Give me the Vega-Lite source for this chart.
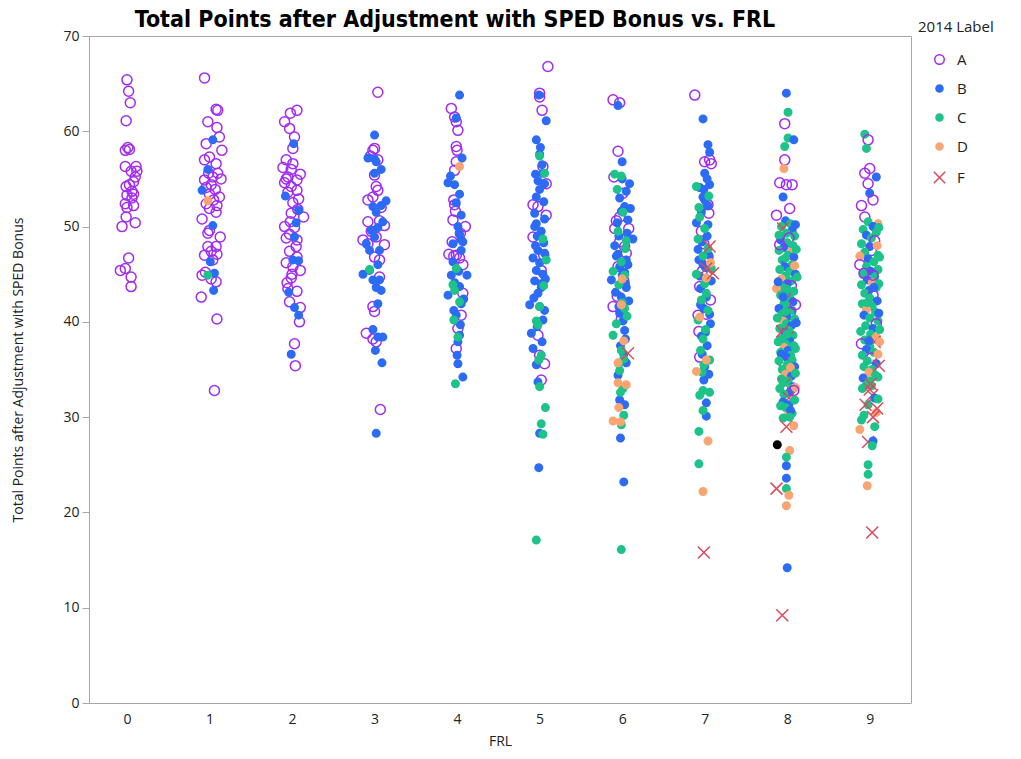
{
"$schema":"https://vega.github.io/schema/vega-lite/v6.json",
"width":822,"height":667,"autosize":"none",
"padding":{"left":89,"top":36,"right":110,"bottom":56},
"background":"white",
"title":{"text":"Total Points after Adjustment with SPED Bonus vs. FRL","font":"Liberation Sans Narrow, DejaVu Sans Condensed, Liberation Sans, sans-serif","fontSize":23,"fontWeight":"bold","color":"#000000","anchor":"middle","dx":-45,"dy":18,"offset":6},
"config":{"view":{"stroke":"#a6a6a6","strokeWidth":1},"font":"Open Sans"},
"data":{"values":[
{"x":0.00,"y":65.4,"l":"A"},{"x":0.02,"y":64.2,"l":"A"},{"x":0.04,"y":63.0,"l":"A"},{"x":-0.01,"y":61.1,"l":"A"},{"x":0.01,"y":58.3,"l":"A"},{"x":-0.02,"y":58.0,"l":"A"},{"x":0.03,"y":58.1,"l":"A"},{"x":-0.02,"y":56.3,"l":"A"},{"x":0.11,"y":56.3,"l":"A"},{"x":0.05,"y":55.8,"l":"A"},{"x":0.12,"y":55.8,"l":"A"},{"x":0.08,"y":54.7,"l":"A"},{"x":-0.01,"y":54.2,"l":"A"},{"x":0.06,"y":53.7,"l":"A"},{"x":0.00,"y":53.3,"l":"A"},{"x":0.08,"y":53.4,"l":"A"},{"x":-0.02,"y":52.4,"l":"A"},{"x":0.08,"y":52.2,"l":"A"},{"x":0.00,"y":52.0,"l":"A"},{"x":-0.01,"y":51.0,"l":"A"},{"x":-0.06,"y":50.0,"l":"A"},{"x":0.10,"y":50.4,"l":"A"},{"x":0.02,"y":46.7,"l":"A"},{"x":-0.08,"y":45.4,"l":"A"},{"x":-0.02,"y":45.6,"l":"A"},{"x":0.05,"y":44.7,"l":"A"},{"x":0.05,"y":43.7,"l":"A"},{"x":0.03,"y":54.4,"l":"A"},{"x":0.06,"y":53.0,"l":"A"},{"x":0.10,"y":55.2,"l":"A"},
{"x":0.94,"y":65.6,"l":"A"},{"x":1.08,"y":62.3,"l":"A"},{"x":1.10,"y":62.2,"l":"A"},{"x":0.98,"y":61.0,"l":"A"},{"x":1.09,"y":60.4,"l":"A"},{"x":1.12,"y":59.4,"l":"A"},{"x":0.96,"y":58.7,"l":"A"},{"x":1.15,"y":58.0,"l":"A"},{"x":1.00,"y":57.3,"l":"A"},{"x":0.94,"y":57.0,"l":"A"},{"x":1.08,"y":56.6,"l":"A"},{"x":0.99,"y":55.6,"l":"A"},{"x":1.10,"y":55.6,"l":"A"},{"x":1.04,"y":55.2,"l":"A"},{"x":0.94,"y":54.9,"l":"A"},{"x":1.14,"y":55.0,"l":"A"},{"x":1.02,"y":54.4,"l":"A"},{"x":0.96,"y":54.1,"l":"A"},{"x":1.07,"y":53.9,"l":"A"},{"x":1.00,"y":53.4,"l":"A"},{"x":1.12,"y":53.1,"l":"A"},{"x":1.05,"y":52.8,"l":"A"},{"x":0.96,"y":52.4,"l":"A"},{"x":1.09,"y":52.2,"l":"A"},{"x":1.00,"y":51.9,"l":"A"},{"x":1.08,"y":51.5,"l":"A"},{"x":0.91,"y":50.8,"l":"A"},{"x":0.98,"y":49.3,"l":"A"},{"x":1.00,"y":49.6,"l":"A"},{"x":1.13,"y":48.9,"l":"A"},{"x":0.98,"y":47.9,"l":"A"},{"x":1.08,"y":47.9,"l":"A"},{"x":1.02,"y":47.4,"l":"A"},{"x":0.94,"y":47.0,"l":"A"},{"x":1.09,"y":47.1,"l":"A"},{"x":1.04,"y":46.5,"l":"A"},{"x":0.91,"y":44.9,"l":"A"},{"x":1.02,"y":44.5,"l":"A"},{"x":1.08,"y":44.2,"l":"A"},{"x":0.95,"y":45.2,"l":"A"},{"x":0.90,"y":42.6,"l":"A"},{"x":1.09,"y":40.3,"l":"A"},{"x":1.06,"y":32.8,"l":"A"},
{"x":1.04,"y":59.1,"l":"B"},{"x":0.91,"y":53.8,"l":"B"},{"x":1.04,"y":50.1,"l":"B"},{"x":1.01,"y":46.3,"l":"B"},{"x":1.06,"y":45.1,"l":"B"},{"x":1.05,"y":43.3,"l":"B"},{"x":0.98,"y":56.0,"l":"B"},{"x":0.98,"y":52.7,"l":"D"},{"x":0.98,"y":44.9,"l":"C"},
{"x":2.06,"y":62.2,"l":"A"},{"x":1.98,"y":61.9,"l":"A"},{"x":1.91,"y":61.0,"l":"A"},{"x":1.97,"y":60.3,"l":"A"},{"x":2.03,"y":59.4,"l":"A"},{"x":2.01,"y":58.2,"l":"A"},{"x":1.93,"y":57.0,"l":"A"},{"x":2.01,"y":56.6,"l":"A"},{"x":1.89,"y":56.2,"l":"A"},{"x":1.99,"y":56.0,"l":"A"},{"x":2.10,"y":55.5,"l":"A"},{"x":1.95,"y":55.2,"l":"A"},{"x":2.06,"y":54.9,"l":"A"},{"x":1.91,"y":54.6,"l":"A"},{"x":1.99,"y":54.2,"l":"A"},{"x":2.06,"y":53.8,"l":"A"},{"x":1.95,"y":53.6,"l":"A"},{"x":2.01,"y":52.5,"l":"A"},{"x":2.07,"y":51.8,"l":"A"},{"x":1.99,"y":51.4,"l":"A"},{"x":2.14,"y":51.0,"l":"A"},{"x":1.91,"y":50.0,"l":"A"},{"x":2.03,"y":49.9,"l":"A"},{"x":1.97,"y":49.2,"l":"A"},{"x":2.06,"y":48.6,"l":"A"},{"x":1.93,"y":48.8,"l":"A"},{"x":1.97,"y":47.4,"l":"A"},{"x":2.06,"y":46.8,"l":"A"},{"x":1.93,"y":46.2,"l":"A"},{"x":2.01,"y":45.8,"l":"A"},{"x":2.10,"y":45.4,"l":"A"},{"x":1.99,"y":44.6,"l":"A"},{"x":1.95,"y":43.5,"l":"A"},{"x":2.06,"y":43.2,"l":"A"},{"x":1.97,"y":42.1,"l":"A"},{"x":2.10,"y":41.5,"l":"A"},{"x":2.09,"y":40.0,"l":"A"},{"x":2.03,"y":37.7,"l":"A"},{"x":2.04,"y":35.4,"l":"A"},{"x":1.93,"y":55.0,"l":"A"},{"x":2.08,"y":52.9,"l":"A"},{"x":1.98,"y":50.5,"l":"A"},{"x":2.00,"y":45.0,"l":"A"},{"x":1.94,"y":44.1,"l":"A"},{"x":2.05,"y":47.9,"l":"A"},
{"x":2.02,"y":58.7,"l":"B"},{"x":1.92,"y":53.2,"l":"B"},{"x":2.08,"y":51.7,"l":"B"},{"x":2.03,"y":48.9,"l":"B"},{"x":2.01,"y":46.5,"l":"B"},{"x":2.08,"y":46.4,"l":"B"},{"x":1.96,"y":43.1,"l":"B"},{"x":2.03,"y":41.5,"l":"B"},{"x":2.08,"y":40.7,"l":"B"},{"x":1.99,"y":36.6,"l":"B"},{"x":2.05,"y":50.4,"l":"B"},
{"x":3.04,"y":64.1,"l":"A"},{"x":3.00,"y":58.2,"l":"A"},{"x":2.98,"y":58.0,"l":"A"},{"x":3.04,"y":57.0,"l":"A"},{"x":3.00,"y":55.4,"l":"A"},{"x":3.02,"y":54.2,"l":"A"},{"x":3.04,"y":53.8,"l":"A"},{"x":2.92,"y":52.8,"l":"A"},{"x":2.98,"y":53.1,"l":"A"},{"x":2.92,"y":50.5,"l":"A"},{"x":3.06,"y":50.6,"l":"A"},{"x":3.12,"y":50.1,"l":"A"},{"x":2.86,"y":48.6,"l":"A"},{"x":2.92,"y":48.2,"l":"A"},{"x":3.12,"y":48.1,"l":"A"},{"x":3.02,"y":48.9,"l":"A"},{"x":3.00,"y":46.8,"l":"A"},{"x":3.06,"y":46.5,"l":"A"},{"x":3.06,"y":44.7,"l":"A"},{"x":2.98,"y":41.6,"l":"A"},{"x":3.00,"y":41.1,"l":"A"},{"x":2.90,"y":38.8,"l":"A"},{"x":2.98,"y":38.2,"l":"A"},{"x":3.02,"y":37.9,"l":"A"},{"x":3.07,"y":30.8,"l":"A"},{"x":2.96,"y":49.5,"l":"A"},{"x":3.08,"y":52.0,"l":"A"},{"x":2.95,"y":57.4,"l":"A"},
{"x":3.00,"y":59.6,"l":"B"},{"x":2.92,"y":57.2,"l":"B"},{"x":3.00,"y":57.1,"l":"B"},{"x":3.02,"y":56.8,"l":"B"},{"x":3.00,"y":55.6,"l":"B"},{"x":3.14,"y":52.7,"l":"B"},{"x":2.98,"y":52.1,"l":"B"},{"x":3.08,"y":52.2,"l":"B"},{"x":3.02,"y":51.5,"l":"B"},{"x":3.10,"y":50.5,"l":"B"},{"x":3.04,"y":49.9,"l":"B"},{"x":2.96,"y":49.6,"l":"B"},{"x":3.00,"y":48.9,"l":"B"},{"x":2.90,"y":48.2,"l":"B"},{"x":2.94,"y":47.5,"l":"B"},{"x":3.06,"y":47.5,"l":"B"},{"x":3.04,"y":46.0,"l":"B"},{"x":2.94,"y":45.4,"l":"B"},{"x":2.86,"y":45.0,"l":"B"},{"x":2.98,"y":44.4,"l":"B"},{"x":3.06,"y":44.4,"l":"B"},{"x":3.02,"y":43.6,"l":"B"},{"x":3.08,"y":43.3,"l":"B"},{"x":3.04,"y":41.9,"l":"B"},{"x":2.98,"y":39.2,"l":"B"},{"x":3.10,"y":38.4,"l":"B"},{"x":3.04,"y":38.4,"l":"B"},{"x":3.01,"y":37.0,"l":"B"},{"x":3.09,"y":35.7,"l":"B"},{"x":3.02,"y":28.3,"l":"B"},{"x":3.08,"y":56.0,"l":"B"},{"x":2.94,"y":45.5,"l":"C"},
{"x":3.93,"y":62.4,"l":"A"},{"x":3.97,"y":61.5,"l":"A"},{"x":3.99,"y":61.0,"l":"A"},{"x":4.01,"y":60.1,"l":"A"},{"x":3.99,"y":58.4,"l":"A"},{"x":4.00,"y":58.0,"l":"A"},{"x":3.99,"y":56.8,"l":"A"},{"x":3.97,"y":55.9,"l":"A"},{"x":3.96,"y":52.8,"l":"A"},{"x":3.97,"y":52.3,"l":"A"},{"x":3.95,"y":50.7,"l":"A"},{"x":4.10,"y":50.0,"l":"A"},{"x":3.94,"y":48.4,"l":"A"},{"x":3.90,"y":47.1,"l":"A"},{"x":3.99,"y":47.0,"l":"A"},{"x":4.03,"y":46.7,"l":"A"},{"x":3.96,"y":46.9,"l":"A"},{"x":4.07,"y":46.0,"l":"A"},{"x":4.07,"y":43.0,"l":"A"},{"x":4.05,"y":40.7,"l":"A"},{"x":4.01,"y":39.3,"l":"A"},{"x":3.99,"y":37.2,"l":"A"},{"x":3.98,"y":51.6,"l":"A"},{"x":4.04,"y":49.3,"l":"A"},
{"x":4.03,"y":63.8,"l":"B"},{"x":3.99,"y":61.4,"l":"B"},{"x":3.89,"y":54.6,"l":"B"},{"x":3.97,"y":54.4,"l":"B"},{"x":4.03,"y":53.4,"l":"B"},{"x":4.05,"y":51.2,"l":"B"},{"x":4.01,"y":50.0,"l":"B"},{"x":4.03,"y":49.2,"l":"B"},{"x":4.05,"y":48.6,"l":"B"},{"x":3.95,"y":48.2,"l":"B"},{"x":4.07,"y":48.4,"l":"B"},{"x":3.93,"y":44.9,"l":"B"},{"x":4.12,"y":44.9,"l":"B"},{"x":3.89,"y":42.8,"l":"B"},{"x":4.03,"y":43.7,"l":"B"},{"x":4.05,"y":41.9,"l":"B"},{"x":3.99,"y":40.7,"l":"B"},{"x":4.03,"y":38.6,"l":"B"},{"x":4.01,"y":37.9,"l":"B"},{"x":4.01,"y":35.6,"l":"B"},{"x":4.07,"y":34.2,"l":"B"},{"x":3.99,"y":52.5,"l":"B"},{"x":4.05,"y":47.5,"l":"B"},{"x":3.95,"y":46.3,"l":"B"},{"x":4.02,"y":45.3,"l":"B"},{"x":3.97,"y":44.1,"l":"B"},{"x":4.08,"y":42.4,"l":"B"},{"x":3.96,"y":41.2,"l":"B"},{"x":4.04,"y":39.7,"l":"B"},{"x":4.00,"y":36.5,"l":"B"},{"x":3.92,"y":55.3,"l":"B"},{"x":4.06,"y":57.2,"l":"B"},
{"x":3.99,"y":45.6,"l":"C"},{"x":3.95,"y":43.9,"l":"C"},{"x":3.97,"y":43.3,"l":"C"},{"x":4.03,"y":42.1,"l":"C"},{"x":3.98,"y":33.5,"l":"C"},{"x":4.01,"y":38.4,"l":"C"},{"x":3.96,"y":40.2,"l":"C"},{"x":4.03,"y":56.3,"l":"D"},
{"x":5.10,"y":66.8,"l":"A"},{"x":5.00,"y":64.0,"l":"A"},{"x":5.00,"y":63.6,"l":"A"},{"x":5.03,"y":62.2,"l":"A"},{"x":5.04,"y":56.3,"l":"A"},{"x":5.08,"y":54.5,"l":"A"},{"x":4.92,"y":52.3,"l":"A"},{"x":4.98,"y":52.1,"l":"A"},{"x":5.08,"y":51.2,"l":"A"},{"x":4.92,"y":48.9,"l":"A"},{"x":5.02,"y":45.4,"l":"A"},{"x":4.98,"y":38.6,"l":"A"},{"x":5.00,"y":36.5,"l":"A"},{"x":5.06,"y":35.6,"l":"A"},{"x":5.02,"y":33.9,"l":"A"},{"x":5.05,"y":47.0,"l":"A"},
{"x":4.99,"y":63.8,"l":"B"},{"x":5.08,"y":61.1,"l":"B"},{"x":4.96,"y":59.1,"l":"B"},{"x":5.00,"y":57.6,"l":"B"},{"x":5.04,"y":55.6,"l":"B"},{"x":4.98,"y":54.8,"l":"B"},{"x":5.06,"y":54.5,"l":"B"},{"x":5.00,"y":53.9,"l":"B"},{"x":4.96,"y":53.1,"l":"B"},{"x":4.94,"y":51.4,"l":"B"},{"x":5.06,"y":50.8,"l":"B"},{"x":4.96,"y":50.3,"l":"B"},{"x":5.02,"y":49.5,"l":"B"},{"x":4.98,"y":47.5,"l":"B"},{"x":5.06,"y":47.2,"l":"B"},{"x":4.92,"y":46.7,"l":"B"},{"x":5.00,"y":46.2,"l":"B"},{"x":4.96,"y":45.4,"l":"B"},{"x":5.04,"y":45.0,"l":"B"},{"x":4.94,"y":44.3,"l":"B"},{"x":5.02,"y":43.6,"l":"B"},{"x":4.98,"y":43.0,"l":"B"},{"x":4.88,"y":41.8,"l":"B"},{"x":5.00,"y":41.6,"l":"B"},{"x":5.06,"y":41.2,"l":"B"},{"x":4.90,"y":38.8,"l":"B"},{"x":4.92,"y":37.2,"l":"B"},{"x":4.96,"y":35.5,"l":"B"},{"x":4.99,"y":24.7,"l":"B"},{"x":5.00,"y":28.3,"l":"B"},{"x":5.03,"y":56.5,"l":"B"},{"x":4.95,"y":55.5,"l":"B"},{"x":5.05,"y":52.6,"l":"B"},{"x":4.97,"y":49.0,"l":"B"},{"x":5.05,"y":48.3,"l":"B"},{"x":4.93,"y":42.5,"l":"B"},{"x":5.04,"y":40.2,"l":"B"},{"x":4.97,"y":39.5,"l":"B"},{"x":5.07,"y":44.5,"l":"B"},{"x":5.01,"y":58.3,"l":"B"},{"x":4.95,"y":48.0,"l":"B"},{"x":5.03,"y":37.9,"l":"B"},{"x":4.98,"y":33.7,"l":"B"},{"x":5.02,"y":44.0,"l":"B"},{"x":4.94,"y":50.0,"l":"B"},
{"x":5.00,"y":57.4,"l":"C"},{"x":5.06,"y":55.6,"l":"C"},{"x":5.04,"y":48.7,"l":"C"},{"x":5.08,"y":46.5,"l":"C"},{"x":5.00,"y":41.6,"l":"C"},{"x":4.96,"y":40.1,"l":"C"},{"x":4.98,"y":39.7,"l":"C"},{"x":5.02,"y":36.5,"l":"C"},{"x":5.00,"y":33.2,"l":"C"},{"x":5.07,"y":31.0,"l":"C"},{"x":5.02,"y":29.3,"l":"C"},{"x":5.04,"y":28.2,"l":"C"},{"x":4.96,"y":17.1,"l":"C"},{"x":5.05,"y":43.8,"l":"C"},{"x":4.99,"y":36.0,"l":"C"},
{"x":5.89,"y":63.3,"l":"A"},{"x":5.97,"y":63.0,"l":"A"},{"x":5.95,"y":57.9,"l":"A"},{"x":5.90,"y":55.2,"l":"A"},{"x":6.01,"y":53.5,"l":"A"},{"x":5.97,"y":51.0,"l":"A"},{"x":5.91,"y":49.8,"l":"A"},{"x":6.08,"y":49.8,"l":"A"},{"x":5.97,"y":48.4,"l":"A"},{"x":6.03,"y":47.9,"l":"A"},{"x":6.05,"y":47.2,"l":"A"},{"x":5.95,"y":45.8,"l":"A"},{"x":5.89,"y":41.6,"l":"A"},{"x":5.99,"y":40.3,"l":"A"},{"x":5.93,"y":50.6,"l":"A"},{"x":6.02,"y":44.3,"l":"A"},{"x":5.94,"y":42.7,"l":"A"},
{"x":5.95,"y":62.7,"l":"B"},{"x":6.00,"y":56.8,"l":"B"},{"x":6.09,"y":54.5,"l":"B"},{"x":5.97,"y":53.0,"l":"B"},{"x":6.03,"y":52.1,"l":"B"},{"x":6.07,"y":50.7,"l":"B"},{"x":6.13,"y":48.7,"l":"B"},{"x":5.91,"y":48.0,"l":"B"},{"x":5.95,"y":47.1,"l":"B"},{"x":6.05,"y":46.5,"l":"B"},{"x":5.97,"y":45.8,"l":"B"},{"x":6.03,"y":45.2,"l":"B"},{"x":5.87,"y":44.4,"l":"B"},{"x":6.05,"y":43.6,"l":"B"},{"x":5.97,"y":40.9,"l":"B"},{"x":6.01,"y":40.1,"l":"B"},{"x":6.03,"y":39.1,"l":"B"},{"x":6.05,"y":35.7,"l":"B"},{"x":5.97,"y":31.8,"l":"B"},{"x":6.03,"y":31.3,"l":"B"},{"x":5.98,"y":27.8,"l":"B"},{"x":6.02,"y":23.2,"l":"B"},{"x":5.99,"y":51.6,"l":"B"},{"x":6.06,"y":49.3,"l":"B"},{"x":5.93,"y":46.9,"l":"B"},{"x":6.00,"y":44.9,"l":"B"},{"x":5.92,"y":43.1,"l":"B"},{"x":6.08,"y":42.2,"l":"B"},{"x":5.96,"y":41.6,"l":"B"},{"x":6.04,"y":38.2,"l":"B"},{"x":5.98,"y":37.5,"l":"B"},{"x":6.07,"y":46.0,"l":"B"},{"x":5.94,"y":50.4,"l":"B"},{"x":6.10,"y":51.9,"l":"B"},{"x":6.00,"y":55.0,"l":"B"},{"x":5.96,"y":49.0,"l":"B"},{"x":6.04,"y":44.0,"l":"B"},{"x":5.99,"y":42.6,"l":"B"},{"x":6.02,"y":36.6,"l":"B"},{"x":5.95,"y":34.4,"l":"B"},{"x":6.05,"y":53.7,"l":"B"},
{"x":5.91,"y":55.5,"l":"C"},{"x":5.99,"y":55.3,"l":"C"},{"x":5.89,"y":45.3,"l":"C"},{"x":6.03,"y":44.9,"l":"C"},{"x":5.89,"y":38.6,"l":"C"},{"x":5.99,"y":37.0,"l":"C"},{"x":6.01,"y":33.0,"l":"C"},{"x":5.98,"y":32.6,"l":"C"},{"x":6.02,"y":30.2,"l":"C"},{"x":5.99,"y":29.2,"l":"C"},{"x":5.99,"y":16.1,"l":"C"},{"x":6.01,"y":51.5,"l":"C"},{"x":5.95,"y":49.5,"l":"C"},{"x":6.04,"y":47.7,"l":"C"},{"x":5.96,"y":43.9,"l":"C"},{"x":6.00,"y":42.0,"l":"C"},{"x":6.06,"y":40.6,"l":"C"},{"x":5.93,"y":39.8,"l":"C"},{"x":6.02,"y":36.1,"l":"C"},{"x":5.97,"y":34.9,"l":"C"},{"x":5.94,"y":53.9,"l":"C"},{"x":6.05,"y":48.5,"l":"C"},{"x":5.99,"y":46.3,"l":"C"},{"x":6.03,"y":41.4,"l":"C"},{"x":5.96,"y":35.6,"l":"C"},
{"x":5.99,"y":41.8,"l":"D"},{"x":5.95,"y":35.7,"l":"D"},{"x":5.95,"y":33.6,"l":"D"},{"x":6.05,"y":33.4,"l":"D"},{"x":5.89,"y":29.6,"l":"D"},{"x":5.98,"y":29.5,"l":"D"},{"x":6.00,"y":44.5,"l":"D"},{"x":6.02,"y":38.0,"l":"D"},{"x":5.96,"y":31.0,"l":"D"},{"x":6.07,"y":36.7,"l":"F"},
{"x":6.88,"y":63.8,"l":"A"},{"x":7.00,"y":56.8,"l":"A"},{"x":7.08,"y":56.6,"l":"A"},{"x":7.04,"y":52.3,"l":"A"},{"x":6.96,"y":49.5,"l":"A"},{"x":7.04,"y":46.8,"l":"A"},{"x":6.94,"y":43.7,"l":"A"},{"x":6.92,"y":40.7,"l":"A"},{"x":7.02,"y":40.8,"l":"A"},{"x":6.94,"y":36.3,"l":"A"},{"x":7.06,"y":57.0,"l":"A"},{"x":6.97,"y":45.3,"l":"A"},{"x":7.05,"y":51.4,"l":"A"},{"x":6.99,"y":48.2,"l":"A"},{"x":6.93,"y":39.0,"l":"A"},{"x":7.07,"y":42.3,"l":"A"},
{"x":6.98,"y":61.3,"l":"B"},{"x":7.04,"y":58.6,"l":"B"},{"x":7.06,"y":57.8,"l":"B"},{"x":7.00,"y":55.6,"l":"B"},{"x":7.06,"y":54.4,"l":"B"},{"x":6.94,"y":54.1,"l":"B"},{"x":6.98,"y":53.1,"l":"B"},{"x":7.04,"y":52.2,"l":"B"},{"x":6.96,"y":51.5,"l":"B"},{"x":6.90,"y":50.4,"l":"B"},{"x":7.03,"y":49.0,"l":"B"},{"x":6.97,"y":48.4,"l":"B"},{"x":7.05,"y":47.0,"l":"B"},{"x":6.93,"y":46.5,"l":"B"},{"x":7.01,"y":45.7,"l":"B"},{"x":7.08,"y":44.3,"l":"B"},{"x":6.95,"y":43.5,"l":"B"},{"x":7.02,"y":42.6,"l":"B"},{"x":6.99,"y":41.4,"l":"B"},{"x":7.07,"y":39.8,"l":"B"},{"x":6.96,"y":38.5,"l":"B"},{"x":7.03,"y":37.5,"l":"B"},{"x":7.00,"y":35.3,"l":"B"},{"x":6.99,"y":33.9,"l":"B"},{"x":7.02,"y":31.5,"l":"B"},{"x":7.02,"y":30.1,"l":"B"},{"x":7.04,"y":50.2,"l":"B"},{"x":6.98,"y":46.0,"l":"B"},{"x":7.06,"y":40.8,"l":"B"},{"x":6.94,"y":44.8,"l":"B"},{"x":7.00,"y":52.8,"l":"B"},{"x":6.92,"y":47.6,"l":"B"},{"x":7.01,"y":38.9,"l":"B"},{"x":6.97,"y":36.6,"l":"B"},{"x":7.05,"y":34.5,"l":"B"},{"x":6.95,"y":41.8,"l":"B"},{"x":7.03,"y":55.0,"l":"B"},{"x":6.99,"y":53.9,"l":"B"},
{"x":6.90,"y":54.2,"l":"C"},{"x":6.94,"y":51.0,"l":"C"},{"x":7.00,"y":49.8,"l":"C"},{"x":6.92,"y":48.7,"l":"C"},{"x":7.04,"y":47.7,"l":"C"},{"x":6.98,"y":46.9,"l":"C"},{"x":7.08,"y":45.6,"l":"C"},{"x":6.90,"y":45.0,"l":"C"},{"x":7.00,"y":44.0,"l":"C"},{"x":6.96,"y":42.3,"l":"C"},{"x":7.04,"y":41.2,"l":"C"},{"x":6.92,"y":40.2,"l":"C"},{"x":7.01,"y":39.2,"l":"C"},{"x":6.98,"y":38.2,"l":"C"},{"x":6.95,"y":37.0,"l":"C"},{"x":7.06,"y":36.0,"l":"C"},{"x":6.97,"y":34.7,"l":"C"},{"x":6.98,"y":32.8,"l":"C"},{"x":7.06,"y":32.6,"l":"C"},{"x":6.94,"y":32.3,"l":"C"},{"x":6.98,"y":30.7,"l":"C"},{"x":6.93,"y":28.5,"l":"C"},{"x":6.93,"y":25.1,"l":"C"},{"x":7.02,"y":43.0,"l":"C"},{"x":6.99,"y":35.5,"l":"C"},{"x":7.05,"y":53.2,"l":"C"},{"x":6.93,"y":52.0,"l":"C"},
{"x":7.02,"y":44.6,"l":"D"},{"x":6.94,"y":40.5,"l":"D"},{"x":7.02,"y":36.0,"l":"D"},{"x":6.90,"y":34.8,"l":"D"},{"x":7.04,"y":27.5,"l":"D"},{"x":6.98,"y":22.2,"l":"D"},{"x":7.07,"y":46.2,"l":"D"},
{"x":7.06,"y":47.9,"l":"F"},{"x":7.02,"y":45.6,"l":"F"},{"x":7.10,"y":45.1,"l":"F"},{"x":6.99,"y":15.8,"l":"F"},
{"x":7.99,"y":64.0,"l":"B"},{"x":8.01,"y":62.0,"l":"C"},{"x":7.97,"y":60.8,"l":"A"},{"x":8.01,"y":59.3,"l":"C"},{"x":7.97,"y":58.4,"l":"C"},{"x":8.08,"y":59.1,"l":"B"},{"x":7.97,"y":57.0,"l":"A"},{"x":7.96,"y":56.1,"l":"D"},{"x":7.91,"y":54.6,"l":"A"},{"x":7.99,"y":54.4,"l":"A"},{"x":8.06,"y":54.4,"l":"A"},{"x":7.95,"y":53.1,"l":"B"},{"x":8.03,"y":51.9,"l":"A"},{"x":7.87,"y":51.2,"l":"A"},
{"x":7.98,"y":50.6,"l":"B"},{"x":8.04,"y":50.3,"l":"C"},{"x":7.93,"y":50.0,"l":"C"},{"x":7.95,"y":49.8,"l":"F"},{"x":8.06,"y":49.6,"l":"B"},{"x":7.99,"y":49.3,"l":"C"},{"x":8.09,"y":49.0,"l":"C"},{"x":8.02,"y":48.8,"l":"A"},{"x":7.92,"y":48.6,"l":"B"},{"x":8.00,"y":48.3,"l":"C"},{"x":8.07,"y":48.0,"l":"C"},{"x":7.96,"y":47.8,"l":"B"},{"x":7.90,"y":47.5,"l":"C"},{"x":8.04,"y":47.3,"l":"D"},{"x":8.01,"y":47.0,"l":"C"},{"x":8.08,"y":46.8,"l":"B"},{"x":7.94,"y":46.5,"l":"C"},{"x":8.00,"y":46.3,"l":"A"},{"x":8.06,"y":46.0,"l":"C"},{"x":7.97,"y":45.8,"l":"B"},{"x":7.91,"y":45.5,"l":"C"},{"x":8.03,"y":45.3,"l":"C"},{"x":8.10,"y":45.0,"l":"B"},{"x":7.98,"y":44.8,"l":"C"},{"x":7.93,"y":44.5,"l":"D"},{"x":8.05,"y":44.3,"l":"C"},{"x":8.00,"y":44.0,"l":"B"},{"x":8.05,"y":43.8,"l":"A"},{"x":7.95,"y":43.6,"l":"C"},{"x":7.87,"y":43.5,"l":"D"},{"x":8.08,"y":43.2,"l":"C"},{"x":7.99,"y":43.0,"l":"B"},{"x":7.92,"y":42.8,"l":"C"},{"x":8.03,"y":42.5,"l":"C"},{"x":7.97,"y":42.3,"l":"F"},{"x":8.07,"y":42.1,"l":"B"},{"x":7.96,"y":41.9,"l":"C"},{"x":8.01,"y":41.6,"l":"C"},{"x":7.90,"y":41.4,"l":"B"},{"x":8.06,"y":41.2,"l":"C"},{"x":8.04,"y":41.0,"l":"A"},{"x":7.94,"y":40.8,"l":"C"},{"x":8.00,"y":40.5,"l":"B"},{"x":8.09,"y":40.3,"l":"C"},{"x":7.95,"y":40.1,"l":"D"},{"x":7.99,"y":39.8,"l":"C"},{"x":8.05,"y":39.6,"l":"B"},{"x":7.91,"y":39.3,"l":"C"},{"x":8.02,"y":39.1,"l":"C"},{"x":7.97,"y":38.9,"l":"B"},{"x":8.07,"y":38.6,"l":"C"},{"x":8.01,"y":38.4,"l":"F"},{"x":7.93,"y":38.2,"l":"C"},{"x":8.03,"y":38.0,"l":"B"},{"x":7.98,"y":37.7,"l":"C"},{"x":8.08,"y":37.5,"l":"C"},{"x":7.96,"y":37.3,"l":"D"},{"x":8.01,"y":37.0,"l":"B"},{"x":7.92,"y":36.8,"l":"C"},{"x":8.04,"y":36.5,"l":"C"},{"x":7.99,"y":36.3,"l":"B"},{"x":8.06,"y":36.0,"l":"C"},{"x":7.95,"y":35.8,"l":"A"},{"x":8.00,"y":35.5,"l":"C"},{"x":8.09,"y":35.3,"l":"B"},{"x":7.94,"y":35.0,"l":"C"},{"x":8.03,"y":34.8,"l":"C"},{"x":7.98,"y":34.5,"l":"D"},{"x":8.05,"y":34.3,"l":"B"},{"x":7.93,"y":34.0,"l":"C"},{"x":8.01,"y":33.8,"l":"C"},{"x":7.97,"y":33.5,"l":"F"},{"x":8.07,"y":33.2,"l":"B"},{"x":7.91,"y":33.0,"l":"C"},{"x":8.05,"y":33.0,"l":"C"},{"x":8.03,"y":32.6,"l":"B"},{"x":7.96,"y":32.4,"l":"C"},{"x":8.02,"y":32.0,"l":"F"},{"x":7.95,"y":31.6,"l":"B"},{"x":8.02,"y":31.3,"l":"B"},{"x":7.98,"y":31.0,"l":"C"},{"x":8.06,"y":30.4,"l":"C"},{"x":8.01,"y":30.2,"l":"D"},{"x":7.95,"y":29.9,"l":"C"},{"x":7.99,"y":29.0,"l":"F"},{"x":8.08,"y":29.1,"l":"D"},{"x":8.03,"y":26.5,"l":"D"},{"x":7.99,"y":25.8,"l":"C"},{"x":7.99,"y":24.9,"l":"B"},{"x":7.99,"y":23.6,"l":"B"},{"x":7.87,"y":22.5,"l":"F"},{"x":7.99,"y":22.5,"l":"C"},{"x":8.02,"y":21.8,"l":"D"},{"x":7.99,"y":20.7,"l":"D"},{"x":8.00,"y":14.2,"l":"B"},{"x":7.94,"y":9.2,"l":"F"},{"x":7.88,"y":27.1,"l":"N"},
{"x":8.10,"y":50.2,"l":"B"},{"x":7.90,"y":49.1,"l":"C"},{"x":7.91,"y":48.1,"l":"A"},{"x":8.11,"y":47.6,"l":"C"},{"x":7.98,"y":46.7,"l":"C"},{"x":8.09,"y":45.9,"l":"D"},{"x":8.12,"y":44.7,"l":"C"},{"x":7.89,"y":44.2,"l":"B"},{"x":8.00,"y":43.4,"l":"C"},{"x":7.95,"y":42.6,"l":"B"},{"x":8.10,"y":41.8,"l":"A"},{"x":7.98,"y":41.1,"l":"C"},{"x":7.88,"y":40.4,"l":"C"},{"x":8.11,"y":39.9,"l":"B"},{"x":7.94,"y":39.0,"l":"F"},{"x":8.00,"y":38.7,"l":"C"},{"x":7.89,"y":37.9,"l":"C"},{"x":8.10,"y":37.2,"l":"C"},{"x":7.93,"y":36.6,"l":"B"},{"x":7.90,"y":35.9,"l":"C"},{"x":8.04,"y":35.2,"l":"D"},{"x":8.10,"y":34.6,"l":"C"},{"x":7.95,"y":33.6,"l":"C"},{"x":8.10,"y":33.1,"l":"D"},{"x":8.08,"y":32.8,"l":"A"},{"x":8.09,"y":31.8,"l":"C"},{"x":7.92,"y":31.2,"l":"C"},{"x":8.04,"y":30.7,"l":"B"},{"x":8.03,"y":30.0,"l":"C"},
{"x":8.94,"y":59.7,"l":"C"},{"x":8.98,"y":59.1,"l":"A"},{"x":8.96,"y":58.2,"l":"C"},{"x":9.00,"y":56.1,"l":"A"},{"x":8.94,"y":55.6,"l":"A"},{"x":9.08,"y":55.2,"l":"B"},{"x":8.98,"y":54.5,"l":"A"},{"x":9.00,"y":53.5,"l":"B"},{"x":9.04,"y":52.8,"l":"A"},{"x":8.90,"y":52.2,"l":"A"},{"x":8.94,"y":51.0,"l":"A"},{"x":9.10,"y":50.3,"l":"D"},
{"x":8.98,"y":50.5,"l":"C"},{"x":9.04,"y":50.0,"l":"B"},{"x":8.92,"y":49.7,"l":"C"},{"x":9.08,"y":49.4,"l":"C"},{"x":8.96,"y":49.1,"l":"B"},{"x":9.02,"y":48.8,"l":"C"},{"x":9.06,"y":48.5,"l":"A"},{"x":8.90,"y":48.2,"l":"C"},{"x":9.00,"y":47.9,"l":"B"},{"x":9.02,"y":47.5,"l":"A"},{"x":8.94,"y":47.3,"l":"C"},{"x":9.10,"y":47.0,"l":"C"},{"x":8.88,"y":46.9,"l":"D"},{"x":8.98,"y":46.6,"l":"B"},{"x":9.05,"y":46.3,"l":"C"},{"x":8.88,"y":46.0,"l":"A"},{"x":8.96,"y":45.8,"l":"C"},{"x":9.10,"y":45.5,"l":"C"},{"x":9.01,"y":45.3,"l":"B"},{"x":8.92,"y":45.0,"l":"C"},{"x":9.06,"y":44.7,"l":"C"},{"x":8.97,"y":44.4,"l":"B"},{"x":9.03,"y":44.1,"l":"D"},{"x":8.90,"y":43.9,"l":"C"},{"x":9.08,"y":43.6,"l":"C"},{"x":8.99,"y":43.3,"l":"B"},{"x":8.94,"y":43.0,"l":"C"},{"x":9.04,"y":42.8,"l":"A"},{"x":9.00,"y":42.5,"l":"C"},{"x":9.09,"y":42.2,"l":"B"},{"x":8.91,"y":41.9,"l":"C"},{"x":9.03,"y":41.6,"l":"C"},{"x":8.96,"y":41.3,"l":"D"},{"x":9.07,"y":41.0,"l":"C"},{"x":8.93,"y":40.7,"l":"B"},{"x":9.00,"y":40.4,"l":"C"},{"x":9.10,"y":40.1,"l":"C"},{"x":9.08,"y":39.8,"l":"A"},{"x":8.95,"y":39.6,"l":"C"},{"x":9.04,"y":39.3,"l":"B"},{"x":8.89,"y":39.0,"l":"C"},{"x":9.01,"y":38.7,"l":"C"},{"x":9.08,"y":38.4,"l":"D"},{"x":8.94,"y":38.1,"l":"C"},{"x":9.06,"y":37.9,"l":"F"},{"x":9.12,"y":37.9,"l":"D"},{"x":8.90,"y":37.7,"l":"A"},{"x":9.00,"y":37.4,"l":"C"},{"x":8.96,"y":37.1,"l":"B"},{"x":9.05,"y":36.8,"l":"C"},{"x":8.91,"y":36.5,"l":"C"},{"x":9.02,"y":36.2,"l":"A"},{"x":8.97,"y":35.9,"l":"C"},{"x":9.08,"y":35.6,"l":"B"},{"x":8.93,"y":35.3,"l":"C"},{"x":9.03,"y":35.0,"l":"C"},{"x":8.99,"y":34.7,"l":"D"},{"x":9.07,"y":34.4,"l":"C"},{"x":8.92,"y":34.1,"l":"B"},{"x":9.00,"y":33.8,"l":"C"},{"x":8.96,"y":33.4,"l":"C"},{"x":9.02,"y":33.3,"l":"C"},{"x":9.00,"y":32.9,"l":"F"},{"x":9.03,"y":32.3,"l":"F"},{"x":9.06,"y":32.0,"l":"B"},{"x":8.98,"y":31.3,"l":"C"},{"x":8.95,"y":31.3,"l":"F"},{"x":9.08,"y":30.5,"l":"D"},{"x":9.04,"y":30.0,"l":"F"},{"x":8.90,"y":29.7,"l":"C"},{"x":9.06,"y":29.0,"l":"C"},{"x":8.88,"y":28.7,"l":"D"},{"x":8.98,"y":27.4,"l":"F"},{"x":9.04,"y":27.5,"l":"B"},{"x":9.03,"y":27.0,"l":"C"},{"x":8.98,"y":25.0,"l":"C"},{"x":8.98,"y":24.0,"l":"C"},{"x":8.97,"y":22.8,"l":"D"},{"x":9.03,"y":17.9,"l":"F"},
{"x":9.11,"y":49.9,"l":"C"},{"x":9.09,"y":48.0,"l":"D"},{"x":9.12,"y":46.8,"l":"C"},{"x":8.93,"y":45.1,"l":"A"},{"x":9.11,"y":44.0,"l":"C"},{"x":8.97,"y":42.0,"l":"C"},{"x":9.11,"y":40.9,"l":"B"},{"x":9.12,"y":39.2,"l":"C"},{"x":8.99,"y":38.0,"l":"B"},{"x":9.10,"y":36.6,"l":"D"},{"x":9.11,"y":35.4,"l":"F"},{"x":9.10,"y":34.2,"l":"C"},{"x":8.91,"y":33.0,"l":"C"},{"x":9.10,"y":31.9,"l":"C"},{"x":9.09,"y":30.9,"l":"F"},{"x":8.93,"y":30.2,"l":"C"},{"x":9.01,"y":33.5,"l":"F"},{"x":9.04,"y":44.9,"l":"A"},{"x":9.05,"y":43.6,"l":"B"}
]},
"mark":{"type":"point","size":100,"strokeWidth":1.5,"opacity":1},
"encoding":{
"x":{"field":"x","type":"quantitative","scale":{"domain":[-0.46,9.5],"nice":false,"zero":false},
"axis":{"title":"FRL","values":[0,1,2,3,4,5,6,7,8,9],"format":"d","grid":false,"ticks":false,"domain":false,"labelFontSize":14,"labelColor":"#222222","labelPadding":9,"titleFontSize":14,"titleFontWeight":"normal","titleColor":"#222222","titlePadding":8,"labelFont":"Open Sans","titleFont":"Open Sans"}},
"y":{"field":"y","type":"quantitative","scale":{"domain":[0,70],"nice":false},
"axis":{"title":"Total Points after Adjustment with SPED Bonus","values":[0,10,20,30,40,50,60,70],"grid":false,"domain":false,"tickSize":7,"tickColor":"#a6a6a6","labelFontSize":14,"labelColor":"#222222","labelPadding":3,"titleFontSize":14,"titleFontWeight":"normal","titleColor":"#222222","titlePadding":37,"labelFont":"Open Sans","titleFont":"Open Sans"}},
"shape":{"field":"l","type":"nominal","scale":{"domain":["A","B","C","D","F","N"],"range":["M-1,0A1,1 0 1,1 1,0A1,1 0 1,1 -1,0Z","M-0.75,0A0.75,0.75 0 1,1 0.75,0A0.75,0.75 0 1,1 -0.75,0Z","M-0.75,0A0.75,0.75 0 1,1 0.75,0A0.75,0.75 0 1,1 -0.75,0Z","M-0.75,0A0.75,0.75 0 1,1 0.75,0A0.75,0.75 0 1,1 -0.75,0Z","M-1.2,-1.2L1.2,1.2M1.2,-1.2L-1.2,1.2","M-0.75,0A0.75,0.75 0 1,1 0.75,0A0.75,0.75 0 1,1 -0.75,0Z"]},
"legend":{"title":"2014 Label","values":["A","B","C","D","F"],"orient":"none","legendX":829,"legendY":-16,"titleFontSize":15,"titleFontWeight":"normal","titleColor":"#222222","titleFont":"Open Sans","labelFont":"Open Sans","labelFontSize":15,"labelColor":"#222222","symbolSize":90,"symbolStrokeWidth":1.5,"symbolOffset":14,"rowPadding":13,"titlePadding":17,"labelOffset":10}},
"stroke":{"field":"l","type":"nominal","scale":{"domain":["A","B","C","D","F","N"],"range":["#A22BF2","#2C6BF5","#1DC388","#F9A572","#D94B5E","#000000"]},
"legend":{"title":"2014 Label","values":["A","B","C","D","F"],"orient":"none","legendX":829,"legendY":-16,"titleFontSize":15,"titleFontWeight":"normal","titleColor":"#222222","titleFont":"Open Sans","labelFont":"Open Sans","labelFontSize":15,"labelColor":"#222222","symbolSize":90,"symbolStrokeWidth":1.5,"symbolOffset":14,"rowPadding":13,"titlePadding":17,"labelOffset":10}},
"fill":{"field":"l","type":"nominal","scale":{"domain":["A","B","C","D","F","N"],"range":["transparent","#2C6BF5","#1DC388","#F9A572","transparent","#000000"]},
"legend":{"title":"2014 Label","values":["A","B","C","D","F"],"orient":"none","legendX":829,"legendY":-16,"titleFontSize":15,"titleFontWeight":"normal","titleColor":"#222222","titleFont":"Open Sans","labelFont":"Open Sans","labelFontSize":15,"labelColor":"#222222","symbolSize":90,"symbolStrokeWidth":1.5,"symbolOffset":14,"rowPadding":13,"titlePadding":17,"labelOffset":10}}
}
}
